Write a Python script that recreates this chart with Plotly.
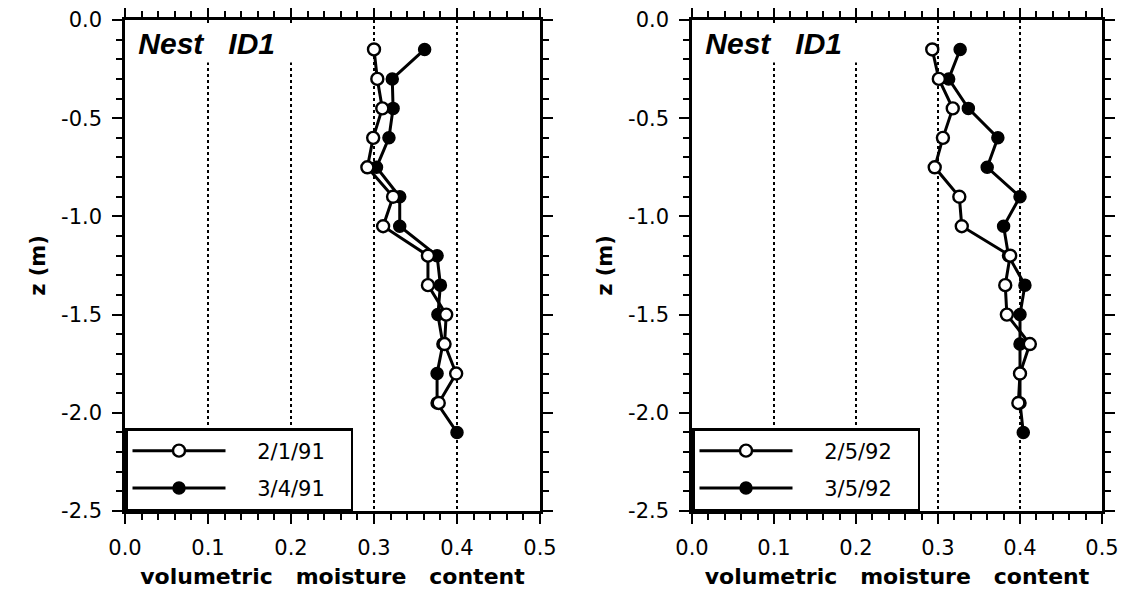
import plotly.graph_objects as go

# ---------------- data ----------------
depth_open = [0.15, 0.30, 0.45, 0.60, 0.75, 0.90, 1.05, 1.20, 1.35, 1.50, 1.65, 1.80, 1.95]
depth_filled = [0.15, 0.30, 0.45, 0.60, 0.75, 0.90, 1.05, 1.20, 1.35, 1.50, 1.65, 1.80, 1.95, 2.10]

left_open = [0.300, 0.304, 0.310, 0.299, 0.292, 0.323, 0.311, 0.365, 0.365, 0.387, 0.385, 0.399, 0.378]
left_filled = [0.361, 0.322, 0.323, 0.318, 0.303, 0.331, 0.331, 0.376, 0.380, 0.377, 0.383, 0.376, 0.376, 0.400]
right_open = [0.293, 0.301, 0.318, 0.306, 0.296, 0.326, 0.329, 0.388, 0.382, 0.384, 0.412, 0.400, 0.398]
right_filled = [0.327, 0.313, 0.337, 0.373, 0.360, 0.400, 0.380, 0.386, 0.406, 0.400, 0.400, 0.400, 0.400, 0.404]

left_labels = ["2/1/91", "3/4/91"]
right_labels = ["2/5/92", "3/5/92"]
panel_label = "Nest\u00a0\u00a0\u00a0ID1"

y_tickvals = [0.0, -0.5, -1.0, -1.5, -2.0, -2.5]
y_ticktext = ["0.0", "-0.5", "-1.0", "-1.5", "-2.0", "-2.5"]
x_tickvals = [0.0, 0.1, 0.2, 0.3, 0.4, 0.5]
x_ticktext = ["0.0", "0.1", "0.2", "0.3", "0.4", "0.5"]

x_title = "volumetric\u00a0\u00a0\u00a0moisture\u00a0\u00a0\u00a0content"
y_title = "z\u00a0(m)"

# ---------------- figure ----------------
W, H = 1129, 602
OFF = 8  # page body margin in the browser
fig = go.Figure()

TICKFONT = dict(family="DejaVu Sans", size=21, color="black")
TITLEFONT = dict(family="DejaVu Sans", size=22, color="black", weight="bold")
YTITLEFONT = dict(family="DejaVu Sans", size=21, color="black", weight="bold")

NB = "\u00a0"


def add_pair(xa, ya, open_vals, filled_vals, labels, legend):
    neg_f = [-d for d in depth_filled]
    neg_o = [-d for d in depth_open]
    fig.add_trace(go.Scatter(
        x=filled_vals, y=neg_f, mode="lines+markers", name=NB * 4 + labels[1] + NB * 3,
        xaxis=xa, yaxis=ya, legend=legend, legendgroup=legend + "b", legendrank=2,
        line=dict(color="black", width=3),
        marker=dict(symbol="circle", size=12, color="black", line=dict(color="black", width=1.5)),
    ))
    fig.add_trace(go.Scatter(
        x=open_vals, y=neg_o, mode="lines+markers", name=NB * 4 + labels[0] + NB * 3,
        xaxis=xa, yaxis=ya, legend=legend, legendgroup=legend + "a", legendrank=1,
        line=dict(color="black", width=3),
        marker=dict(symbol="circle", size=12, color="white", line=dict(color="black", width=2.4)),
    ))


add_pair("x", "y", left_open, left_filled, left_labels, "legend")
add_pair("x2", "y2", right_open, right_filled, right_labels, "legend2")


def xaxis(domain, anchor):
    return dict(
        domain=domain, anchor=anchor, range=[0, 0.5],
        tickmode="array", tickvals=x_tickvals, ticktext=x_ticktext,
        showline=True, linewidth=2.5, linecolor="black", mirror="ticks",
        ticks="outside", ticklen=10, tickwidth=2, tickcolor="black",
        ticklabelstandoff=6,
        showgrid=True, gridcolor="black", griddash="dot", gridwidth=1.5,
        zeroline=False, tickfont=TICKFONT,
        minor=dict(dtick=0.02, tick0=0, ticks="outside", ticklen=6, tickwidth=1.5,
                   tickcolor="black", showgrid=False),
        title=dict(text=x_title, font=TITLEFONT, standoff=10),
        automargin=False,
    )


def yaxis(anchor):
    return dict(
        domain=[0, 1], anchor=anchor, range=[-2.5, 0],
        tickmode="array", tickvals=y_tickvals, ticktext=y_ticktext,
        showline=True, linewidth=2.5, linecolor="black", mirror="ticks",
        ticks="outside", ticklen=10, tickwidth=2, tickcolor="black",
        ticklabelstandoff=6,
        showgrid=False, zeroline=False, tickfont=TICKFONT,
        minor=dict(dtick=0.1, tick0=0, ticks="outside", ticklen=6, tickwidth=1.5,
                   tickcolor="black", showgrid=False),
        title=dict(text=y_title, font=YTITLEFONT, standoff=10),
        automargin=False,
    )


dom1 = [(125 - OFF) / W, (540 - OFF) / W]
dom2 = [(692 - OFF) / W, (1102 - OFF) / W]

LEGFONT = dict(family="DejaVu Sans", size=21, color="black")


def legend_cfg(xpos):
    return dict(
        x=xpos, y=0, xanchor="left", yanchor="bottom",
        bordercolor="black", borderwidth=2.5, bgcolor="white",
        itemwidth=93, font=LEGFONT, traceorder="grouped", tracegroupgap=7,
        itemclick=False,
    )


annotations = []
for xr, yr in (("x domain", "y domain"), ("x2 domain", "y2 domain")):
    annotations.append(dict(
        xref=xr, yref=yr, x=0, y=1, xanchor="left", yanchor="top",
        xshift=3, yshift=-3, showarrow=False,
        text=NB + panel_label, align="left", valign="middle",
        width=165, height=36, borderpad=1, bgcolor="white",
        font=dict(family="Liberation Sans", size=30, color="black",
                  weight="bold", style="italic"),
    ))

top = 20 - OFF
plot_h = 491
fig.update_layout(
    width=W, height=H,
    margin=dict(l=0, r=0, t=top, b=H - top - plot_h),
    paper_bgcolor="white", plot_bgcolor="white",
    xaxis=xaxis(dom1, "y"), yaxis=yaxis("x"),
    xaxis2=xaxis(dom2, "y2"), yaxis2=yaxis("x2"),
    legend=legend_cfg(dom1[0]), legend2=legend_cfg(dom2[0]),
    annotations=annotations,
    showlegend=True,
)

fig.write_html("out.html")
